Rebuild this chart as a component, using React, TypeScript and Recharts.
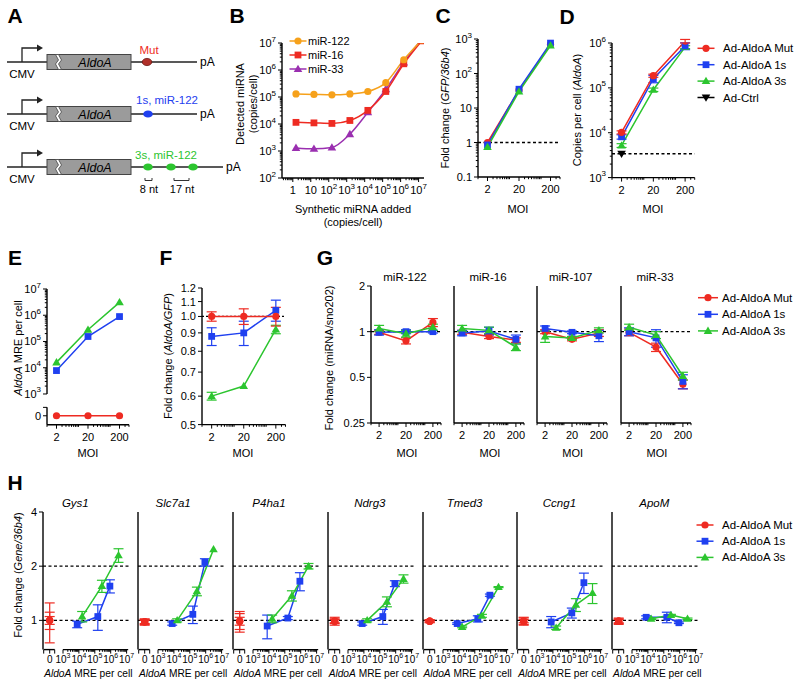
import React from "react";
import { LineChart, Line, XAxis, YAxis, ReferenceLine, ErrorBar } from "recharts";

const FONT = '"Liberation Sans", Arial, Helvetica, sans-serif';
const RED = "#ee2b22";
const BLUE = "#1f40f0";
const GREEN = "#2cc52f";
const ORANGE = "#f6a11b";
const PURPLE = "#9a2fb0";

// ---------- data ----------
const MOI = [2, 20, 200];

// B: spike-in of synthetic miRNA
const B_NAMES = ["miR-122", "miR-16", "miR-33"];
const SPIKE = [1.5, 15, 150, 1.5e3, 1.5e4, 1.5e5, 1.5e6, 1.5e7];
const B_MIR122 = [1.3e5, 1.25e5, 1.2e5, 1.3e5, 1.6e5, 3.4e5, 2.4e6, 1.3e7];
const B_MIR16 = [1.15e4, 1.1e4, 1.05e4, 1.35e4, 3.2e4, 1.6e5, 1.7e6, 1.2e7];
const B_MIR33 = [1.3e3, 1.2e3, 1.35e3, 4.2e3, 2.7e4, 1.95e5, 1.9e6, 1.4e7];

// C: GFP/36b4
const C_MUT = [1.0, 33, 700];
const C_1S = [0.85, 35, 760];
const C_3S = [0.74, 30, 650];

// D: copies per cell
const AD_NAMES = ["Ad-AldoA Mut", "Ad-AldoA 1s", "Ad-AldoA 3s", "Ad-Ctrl"];
const D_MUT = [1.02e4, 1.87e5, 1.1e6];
const D_MUT_ERR = [800, 1.5e4, 1e5];
const D_1S = [8.1e3, 1.6e5, 8.6e5];
const D_1S_ERR = [900, 3e4, 1.5e5];
const D_3S = [5.2e3, 9.1e4, 8.1e5];
const D_3S_ERR = [500, 8e3, 6e4];
const D_CTRL = 3.4e3;

// E: MRE per cell
const E_MUT = [0, 0, 0];
const E_1S = [7.8e3, 1.55e5, 8.9e5];
const E_3S = [1.6e4, 2.8e5, 3.1e6];

// F: AldoA/GFP
const F_TICKS = [0.5, 0.6, 0.7, 0.8, 0.9, 1.0, 1.1, 1.2];
const F_MUT = [1.0, 1.0, 1.0];
const F_MUT_ERR = [0.03, 0.05, 0.06];
const F_1S = [0.88, 0.9, 1.04];
const F_1S_ERR = [0.05, 0.07, 0.07];
const F_3S = [0.6, 0.64, 0.92];
const F_3S_ERR = [0.015, 0.0, 0.025];

// G: miRNA/sno202
const G_MIRS = ["miR-122", "miR-16", "miR-107", "miR-33"];
const G_TICKS = [0.25, 0.5, 1, 2];
const G_MUT = [[0.99, 0.87, 1.15], [0.99, 0.93, 0.88], [1.0, 0.89, 0.98], [0.99, 0.79, 0.45]];
const G_MUT_ERR = [[0.03, 0.04, 0.07], [0.03, 0.03, 0.03], [0.03, 0.02, 0.05], [0.05, 0.05, 0.03]];
const G_1S = [[0.99, 1.0, 1.0], [0.98, 1.01, 0.89], [1.05, 0.99, 0.94], [1.0, 0.91, 0.47]];
const G_1S_ERR = [[0.04, 0.03, 0.02], [0.04, 0.06, 0.06], [0.04, 0.02, 0.08], [0.06, 0.12, 0.05]];
const G_3S = [[1.05, 0.97, 1.07], [1.05, 1.02, 0.79], [0.93, 0.91, 1.02], [1.07, 0.95, 0.51]];
const G_3S_ERR = [[0.05, 0.05, 0.05], [0.05, 0.05, 0.04], [0.08, 0.02, 0.04], [0.05, 0.05, 0.03]];

// H: Gene/36b4 vs MRE per cell
const H_GENES = ["Gys1", "Slc7a1", "P4ha1", "Ndrg3", "Tmed3", "Ccng1", "ApoM"];
const H_TICKS = [1, 2, 4];
const H_MUT = [[1.0, 1.0, 1.0], [0.98, 0.98, 0.98], [0.99, 0.99, 0.99], [0.99, 0.99, 0.99], [0.99, 0.99, 0.99], [0.99, 0.99, 0.99], [0.99, 0.99, 0.99]];
const H_MUT_ERR = [[0.25, 0.11, 0.05], [0.04, 0.03, 0.02], [0.13, 0.1, 0.05], [0.05, 0.03, 0.02], [0.02, 0.01, 0.01], [0.05, 0.04, 0.02], [0.04, 0.03, 0.02]];
const H_1S = [[0.95, 1.05, 1.55], [0.96, 1.08, 2.1], [0.93, 1.03, 1.65], [0.96, 1.05, 1.6], [0.96, 1.02, 1.38], [0.98, 1.1, 1.62], [1.04, 1.04, 0.97]];
const H_1S_ERR = [[0.04, 0.17, 0.13], [0.02, 0.12, 0.1], [0.14, 0.02, 0.19], [0.02, 0.1, 0.06], [0.01, 0.04, 0.02], [0.07, 0.07, 0.21], [0.02, 0.07, 0.01]];
const H_3S = [[1.05, 1.55, 2.3], [1.0, 1.45, 2.48], [1.02, 1.37, 2.0], [1.0, 1.27, 1.7], [0.92, 1.06, 1.53], [0.91, 1.22, 1.42], [1.02, 1.07, 1.02]];
const H_3S_ERR = [[0.07, 0.12, 0.2], [0.02, 0.08, 0.0], [0.05, 0.09, 0.07], [0.02, 0.08, 0.09], [0.01, 0.02, 0.01], [0.02, 0.1, 0.18], [0.01, 0.01, 0.01]];

// ---------- layout ----------
const PL = 44, PT = 8, PR = 8, PB = 30;
const AX = { stroke: "#000", strokeWidth: 1.4 };
const MAJ = 4, MIN = 2.2;
const MOI_DOM: [number, number] = [1, 400];

// broken axes: value 0 sits on its own little segment, the rest is log10
const E_DOM: [number, number] = [1.83, 7];
const E_ZERO = 2.17;
const E_SEG0 = [1.83, 2.49];
const H_DOM: [number, number] = [1.742, 7.277];
const H_ZERO = 2.163;
const H_SEG0 = [1.786, 2.478];
const H_YDOM: [number, number] = [0.688, 4];
const G_X0 = [371, 454, 536.7, 621];
const H_X0 = H_GENES.map((_, i) => 43.3 + i * 94.83);
const H_TITLE_DX = [32, 35, 36, 42, 42, 42, 42];

type Row = { x: number; y: number; e: number };
const rows = (xs: number[], ys: number[], es?: number[]): Row[] =>
  xs.map((x, i) => ({ x, y: ys[i], e: es ? es[i] : 0 }));
const eT = (v: number) => (v === 0 ? E_ZERO : Math.log10(v));
const hT = (v: number) => (v === 0 ? H_ZERO : Math.log10(v));

type TD = { v: number; label?: React.ReactNode; len: number };
const sup = (n: number, fs = 8) => (
  <>
    <tspan>10</tspan>
    <tspan dy={-4.5} fontSize={fs}>{n}</tspan>
  </>
);

function logDefs(lo: number, hi: number, lab: (n: number) => React.ReactNode): TD[] {
  const out: TD[] = [];
  for (let n = lo; n <= hi; n++) {
    out.push({ v: Math.pow(10, n), label: lab(n), len: MAJ });
    if (n < hi) for (let k = 2; k <= 9; k++) out.push({ v: k * Math.pow(10, n), len: MIN });
  }
  return out;
}

const MOI_DEFS: TD[] = [];
for (let n = 0; n <= 2; n++)
  for (let k = 1; k <= 9; k++) {
    const v = k * Math.pow(10, n);
    if (v > 400) continue;
    const major = MOI.includes(v);
    MOI_DEFS.push({ v, len: major ? MAJ : MIN, label: major ? String(v) : undefined });
  }

const B_XDEFS: TD[] = [
  ...[3, 4, 5, 6, 7, 8, 9].map((k) => ({ v: k / 10, len: MIN })),
  ...logDefs(0, 7, (n) => (n === 0 ? "1" : n === 1 ? "10" : sup(n))),
];
const B_YDEFS = logDefs(2, 7, (n) => sup(n));
const C_YDEFS = logDefs(-1, 3, (n) => (n === -1 ? "0.1" : n === 0 ? "1" : n === 1 ? "10" : sup(n)));
const D_YDEFS = logDefs(3, 6, (n) => sup(n));

const E_YDEFS: TD[] = [{ v: E_ZERO, label: "0", len: MAJ }, { v: E_SEG0[1], len: MAJ }];
for (let n = 3; n <= 7; n++) {
  E_YDEFS.push({ v: n, label: sup(n), len: MAJ });
  if (n < 7) for (let k = 2; k <= 9; k++) E_YDEFS.push({ v: n + Math.log10(k), len: MIN });
}
const H_XDEFS: TD[] = [
  { v: H_ZERO, label: "0", len: MAJ },
  { v: H_SEG0[0], len: MAJ },
  { v: H_SEG0[1], len: MAJ },
];
for (let n = 3; n <= 7; n++) {
  H_XDEFS.push({ v: n, label: sup(n, 7), len: MAJ });
  if (n < 7) for (let k = 2; k <= 9; k++) H_XDEFS.push({ v: n + Math.log10(k), len: MIN });
}
const F_YDEFS: TD[] = F_TICKS.map((v) => ({ v, label: v.toFixed(1), len: MAJ }));
const G_YDEFS: TD[] = G_TICKS.map((v) => ({ v, label: String(v), len: MAJ }));
const H_YDEFS: TD[] = H_TICKS.map((v) => ({ v, label: String(v), len: MAJ }));

// ---------- drawing helpers ----------
const Mk = ({ shape, cx, cy, color }: { shape: string; cx: number; cy: number; color: string }) => {
  if (shape === "circle") return <circle cx={cx} cy={cy} r={3.6} fill={color} />;
  if (shape === "square") return <rect x={cx - 3.4} y={cy - 3.4} width={6.8} height={6.8} fill={color} />;
  if (shape === "tri")
    return <path d={`M${cx},${cy - 4.3} L${cx + 4.3},${cy + 3} L${cx - 4.3},${cy + 3} Z`} fill={color} />;
  return <path d={`M${cx},${cy + 4.3} L${cx + 4.3},${cy - 3} L${cx - 4.3},${cy - 3} Z`} fill={color} />;
};

const dotOf = (shape: string, color: string) => (p: any) =>
  p.cx == null || p.cy == null || isNaN(p.cy) ? (
    <g key={p.index} />
  ) : (
    <Mk key={p.index} shape={shape} cx={p.cx} cy={p.cy} color={color} />
  );

const XTick = (p: any) => {
  const { x, y, payload, defs, off = 12, fs = 11 } = p;
  const d = (defs as TD[]).find((t) => t.v === payload.value);
  if (!d) return <g />;
  return (
    <g>
      <line x1={x} x2={x} y1={y} y2={y + d.len} stroke="#000" strokeWidth={1} />
      {d.label != null && (
        <text x={x} y={y + off} textAnchor="middle" dominantBaseline="central" fontSize={fs} fontFamily={FONT} fill="#000">
          {d.label}
        </text>
      )}
    </g>
  );
};

const YTick = (p: any) => {
  const { x, y, payload, defs } = p;
  const d = (defs as TD[]).find((t) => t.v === payload.value);
  if (!d) return <g />;
  return (
    <g>
      <line x1={x - d.len} x2={x} y1={y} y2={y} stroke="#000" strokeWidth={1} />
      {d.label != null && (
        <text x={x - 6} y={y} textAnchor="end" dominantBaseline="central" fontSize={11} fontFamily={FONT} fill="#000">
          {d.label}
        </text>
      )}
    </g>
  );
};

const xAx = (domain: [number, number], defs: TD[], o: { log?: boolean; line?: boolean; off?: number; fs?: number } = {}) => (
  <XAxis
    key="xa"
    type="number"
    dataKey="x"
    scale={o.log === false ? "linear" : "log"}
    domain={domain}
    allowDataOverflow
    ticks={defs.map((d) => d.v)}
    interval={0}
    tickSize={0}
    tickMargin={0}
    tickLine={false}
    axisLine={o.line === false ? false : AX}
    height={PB}
    tick={(tp: any) => <XTick {...tp} defs={defs} off={o.off} fs={o.fs} />}
  />
);

const yAx = (domain: [number, number], defs: TD[] | null, o: { log?: boolean; line?: boolean } = {}) => (
  <YAxis
    key="ya"
    type="number"
    scale={o.log === false ? "linear" : "log"}
    domain={domain}
    allowDataOverflow
    ticks={defs ? defs.map((d) => d.v) : undefined}
    interval={0}
    tickSize={0}
    tickMargin={0}
    tickLine={false}
    axisLine={o.line === false ? false : AX}
    width={PL}
    tick={defs ? (tp: any) => <YTick {...tp} defs={defs} /> : false}
  />
);

function series(key: string, data: Row[], color: string, shape: string, o: { err?: boolean; curve?: "monotone" | "linear"; noLine?: boolean } = {}) {
  return (
    <Line
      key={key}
      data={data}
      dataKey="y"
      type={o.curve ?? "linear"}
      stroke={o.noLine ? "none" : color}
      strokeWidth={1.5}
      dot={dotOf(shape, color)}
      activeDot={false}
      isAnimationActive={false}
      legendType="none"
    >
      {o.err && <ErrorBar dataKey="e" direction="y" width={5} stroke={color} strokeWidth={1.2} />}
    </Line>
  );
}

const dash = (yv: number, key: string, da = "3 2.5") => (
  <ReferenceLine key={key} y={yv} stroke="#000" strokeWidth={1.3} strokeDasharray={da} ifOverflow="visible" />
);

const Frame = ({ x, y, w, h, children }: { x: number; y: number; w: number; h: number; children: React.ReactNode }) => (
  <div style={{ position: "absolute", left: x - PL, top: y - PT }}>
    <LineChart width={w + PL + PR} height={h + PT + PB} margin={{ top: PT, right: PR, bottom: 0, left: 0 }}>
      {children}
    </LineChart>
  </div>
);

type LItem = { name: string; color: string; shape: string };
const LegendBlock = ({ x, y0, step, half, tx, fs, items }: { x: number; y0: number; step: number; half: number; tx: number; fs: number; items: LItem[] }) => (
  <g>
    {items.map((it, i) => {
      const yy = y0 + i * step;
      return (
        <g key={it.name}>
          <line x1={x - half} x2={x + half} y1={yy} y2={yy} stroke={it.color} strokeWidth={1.5} />
          <Mk shape={it.shape} cx={x} cy={yy} color={it.color} />
          <text x={tx} y={yy} dominantBaseline="central" fontSize={fs} fontFamily={FONT}>
            {it.name}
          </text>
        </g>
      );
    })}
  </g>
);

const AD_ITEMS: LItem[] = [
  { name: AD_NAMES[0], color: RED, shape: "circle" },
  { name: AD_NAMES[1], color: BLUE, shape: "square" },
  { name: AD_NAMES[2], color: GREEN, shape: "tri" },
];
const B_ITEMS: LItem[] = [
  { name: B_NAMES[0], color: ORANGE, shape: "circle" },
  { name: B_NAMES[1], color: RED, shape: "square" },
  { name: B_NAMES[2], color: PURPLE, shape: "tri" },
];

const VText = ({ x, y, children, fs = 11 }: { x: number; y: number; children: React.ReactNode; fs?: number }) => (
  <text x={x} y={y} transform={`rotate(-90 ${x} ${y})`} textAnchor="middle" dominantBaseline="central" fontSize={fs} fontFamily={FONT}>
    {children}
  </text>
);
const HText = ({ x, y, children, fs = 11, italic }: { x: number; y: number; children: React.ReactNode; fs?: number; italic?: boolean }) => (
  <text x={x} y={y} textAnchor="middle" dominantBaseline="central" fontSize={fs} fontFamily={FONT} fontStyle={italic ? "italic" : "normal"}>
    {children}
  </text>
);
const Letter = ({ x, y, t }: { x: number; y: number; t: string }) => (
  <text x={x} y={y} textAnchor="middle" dominantBaseline="central" fontSize={21} fontWeight="bold" fontFamily={FONT}>
    {t}
  </text>
);

const PanelA = () => {
  const ys = [62, 114, 167];
  return (
    <g fontFamily={FONT}>
      {ys.map((ry, i) => (
        <g key={i}>
          <line x1={7} x2={i === 2 ? 223 : 197} y1={ry} y2={ry} stroke="#222" strokeWidth={1.3} />
          <path d={`M22,${ry} V${ry - 14} H37`} fill="none" stroke="#222" strokeWidth={1.3} />
          <path d={`M37,${ry - 17.5} L43,${ry - 14} L37,${ry - 10.5} Z`} fill="#222" />
          <rect x={47} y={ry - 7.5} width={84} height={15} fill="#9b9b9b" stroke="#444" strokeWidth={1} />
          <path
            d={`M55.5,${ry - 7.5} L58.5,${ry - 2} L55.5,${ry + 2} L58.5,${ry + 7.5} L61.5,${ry + 7.5} L58.5,${ry + 2} L61.5,${ry - 2} L58.5,${ry - 7.5} Z`}
            fill="#fff"
            stroke="#444"
            strokeWidth={0.8}
          />
          <text x={95} y={ry + 0.5} textAnchor="middle" dominantBaseline="central" fontStyle="italic" fontSize={12.5}>
            AldoA
          </text>
          <text x={22} y={ry + 11.5} textAnchor="middle" dominantBaseline="central" fontSize={11.5}>
            CMV
          </text>
          <text x={i === 2 ? 226 : 200} y={ry} dominantBaseline="central" fontSize={12}>
            pA
          </text>
        </g>
      ))}
      <ellipse cx={147} cy={62} rx={4.8} ry={3.6} fill="#b0302a" stroke="#6a1510" strokeWidth={0.8} />
      <text x={149} y={50} textAnchor="middle" dominantBaseline="central" fontSize={11.5} fill={RED}>
        Mut
      </text>
      <ellipse cx={148} cy={114} rx={4.8} ry={3.6} fill={BLUE} />
      <text x={167} y={100} textAnchor="middle" dominantBaseline="central" fontSize={11.5} fill={BLUE}>
        1s, miR-122
      </text>
      {[148, 171, 193].map((cx) => (
        <ellipse key={cx} cx={cx} cy={167} rx={4.8} ry={3.6} fill={GREEN} />
      ))}
      <text x={166} y={155} textAnchor="middle" dominantBaseline="central" fontSize={11.5} fill={GREEN}>
        3s, miR-122
      </text>
      <path d="M145,178 V180.5 H152 V178" fill="none" stroke="#333" strokeWidth={1} />
      <path d="M174,178 V180.5 H189 V178" fill="none" stroke="#333" strokeWidth={1} />
      <text x={149} y={189} textAnchor="middle" dominantBaseline="central" fontSize={11}>
        8 nt
      </text>
      <text x={182} y={189} textAnchor="middle" dominantBaseline="central" fontSize={11}>
        17 nt
      </text>
    </g>
  );
};

export default function App() {
  return (
    <div style={{ position: "absolute", left: 0, top: 0, width: 800, height: 687, background: "#fff", overflow: "hidden" }}>
      {/* B */}
      <Frame x={282} y={43} w={142} h={135}>
        {xAx([0.25, 2e7], B_XDEFS)}
        {yAx([100, 1e7], B_YDEFS)}
        {series("b3", rows(SPIKE, B_MIR33), PURPLE, "tri", { curve: "monotone" })}
        {series("b2", rows(SPIKE, B_MIR16), RED, "square", { curve: "monotone" })}
        {series("b1", rows(SPIKE, B_MIR122), ORANGE, "circle", { curve: "monotone" })}
      </Frame>

      {/* C */}
      <Frame x={477.5} y={39.3} w={82} h={138}>
        {xAx(MOI_DOM, MOI_DEFS)}
        {yAx([0.1, 1000], C_YDEFS)}
        {dash(1, "c1")}
        {series("cm", rows(MOI, C_MUT), RED, "circle")}
        {series("c1s", rows(MOI, C_1S), BLUE, "square")}
        {series("c3s", rows(MOI, C_3S), GREEN, "tri")}
      </Frame>

      {/* D */}
      <Frame x={612} y={42.7} w={82.7} h={134.6}>
        {xAx(MOI_DOM, MOI_DEFS)}
        {yAx([1000, 1e6], D_YDEFS)}
        {dash(D_CTRL, "dctrl")}
        {series("d3s", rows(MOI, D_3S, D_3S_ERR), GREEN, "tri", { err: true })}
        {series("d1s", rows(MOI, D_1S, D_1S_ERR), BLUE, "square", { err: true })}
        {series("dm", rows(MOI, D_MUT, D_MUT_ERR), RED, "circle", { err: true })}
        {series("dc", rows([2], [D_CTRL]), "#000", "tridown", { noLine: true })}
      </Frame>

      {/* E */}
      <Frame x={47} y={289.3} w={82} h={135.7}>
        {xAx(MOI_DOM, MOI_DEFS)}
        {yAx(E_DOM, E_YDEFS, { log: false, line: false })}
        <ReferenceLine key="es1" segment={[{ x: 1, y: 3 }, { x: 1, y: 7 }]} stroke="#000" strokeWidth={1.4} ifOverflow="visible" />
        <ReferenceLine key="es0" segment={[{ x: 1, y: E_SEG0[0] }, { x: 1, y: E_SEG0[1] }]} stroke="#000" strokeWidth={1.4} ifOverflow="visible" />
        {series("em", rows(MOI, E_MUT.map(eT)), RED, "circle")}
        {series("e1s", rows(MOI, E_1S.map(eT)), BLUE, "square")}
        {series("e3s", rows(MOI, E_3S.map(eT)), GREEN, "tri")}
      </Frame>

      {/* F */}
      <Frame x={201.5} y={287.7} w={83.5} h={136.6}>
        {xAx(MOI_DOM, MOI_DEFS)}
        {yAx([0.5, 1.2], F_YDEFS)}
        {dash(1, "f1", "2 2")}
        {series("f3s", rows(MOI, F_3S, F_3S_ERR), GREEN, "tri", { err: true })}
        {series("f1s", rows(MOI, F_1S, F_1S_ERR), BLUE, "square", { err: true })}
        {series("fm", rows(MOI, F_MUT, F_MUT_ERR), RED, "circle", { err: true })}
      </Frame>

      {/* G */}
      {G_MIRS.map((m, i) => (
        <Frame key={m} x={G_X0[i]} y={286} w={70} h={137}>
          {xAx(MOI_DOM, MOI_DEFS)}
          {yAx([0.25, 2], i === 0 ? G_YDEFS : null)}
          {dash(1, "g1")}
          {series("gm", rows(MOI, G_MUT[i], G_MUT_ERR[i]), RED, "circle", { err: true })}
          {series("g1s", rows(MOI, G_1S[i], G_1S_ERR[i]), BLUE, "square", { err: true })}
          {series("g3s", rows(MOI, G_3S[i], G_3S_ERR[i]), GREEN, "tri", { err: true })}
        </Frame>
      ))}

      {/* H */}
      {H_GENES.map((g, i) => (
        <Frame key={g} x={H_X0[i]} y={511.7} w={88} h={137.6}>
          {xAx(H_DOM, H_XDEFS, { log: false, line: false, off: 9.5, fs: 10 })}
          {yAx(H_YDOM, i === 0 ? H_YDEFS : null)}
          {dash(1, "h1")}
          {dash(2, "h2")}
          <ReferenceLine key="hs0" segment={[{ x: H_SEG0[0], y: H_YDOM[0] }, { x: H_SEG0[1], y: H_YDOM[0] }]} stroke="#000" strokeWidth={1.4} ifOverflow="visible" />
          <ReferenceLine key="hs1" segment={[{ x: 3, y: H_YDOM[0] }, { x: 7.1, y: H_YDOM[0] }]} stroke="#000" strokeWidth={1.4} ifOverflow="visible" />
          {series("hm", rows(E_MUT.map(hT), H_MUT[i], H_MUT_ERR[i]), RED, "circle", { err: true, noLine: true })}
          {series("h1s", rows(E_1S.map(hT), H_1S[i], H_1S_ERR[i]), BLUE, "square", { err: true })}
          {series("h3s", rows(E_3S.map(hT), H_3S[i], H_3S_ERR[i]), GREEN, "tri", { err: true })}
        </Frame>
      ))}

      <svg width={800} height={687} style={{ position: "absolute", left: 0, top: 0, pointerEvents: "none" }} fontFamily={FONT}>
        <Letter x={15} y={15} t="A" />
        <Letter x={237} y={15} t="B" />
        <Letter x={443} y={15} t="C" />
        <Letter x={567} y={16} t="D" />
        <Letter x={15} y={257} t="E" />
        <Letter x={166} y={257} t="F" />
        <Letter x={325} y={257} t="G" />
        <Letter x={15} y={482} t="H" />

        <PanelA />

        {/* B texts */}
        <VText x={240} y={104}>Detected miRNA</VText>
        <VText x={253} y={104}>(copies/cell)</VText>
        <HText x={353} y={209}>Synthetic miRNA added</HText>
        <HText x={353} y={222}>(copies/cell)</HText>
        <LegendBlock x={298} y0={41} step={14} half={8.5} tx={308} fs={11} items={B_ITEMS} />

        {/* C */}
        <VText x={445} y={108}>
          Fold change (<tspan fontStyle="italic">GFP/36b4</tspan>)
        </VText>
        <HText x={518} y={209}>MOI</HText>

        {/* D */}
        <VText x={577} y={110}>
          Copies per cell (<tspan fontStyle="italic">AldoA</tspan>)
        </VText>
        <HText x={653} y={209}>MOI</HText>
        <LegendBlock
          x={706}
          y0={48.3}
          step={16.4}
          half={8.5}
          tx={723}
          fs={11.5}
          items={[...AD_ITEMS, { name: AD_NAMES[3], color: "#000", shape: "tridown" }]}
        />

        {/* E */}
        <VText x={18} y={348}>
          <tspan fontStyle="italic">AldoA</tspan> MRE per cell
        </VText>
        <HText x={88} y={453}>MOI</HText>

        {/* F */}
        <VText x={168} y={356}>
          Fold change (<tspan fontStyle="italic">AldoA/GFP</tspan>)
        </VText>
        <HText x={243} y={453}>MOI</HText>

        {/* G */}
        <VText x={329} y={358}>Fold change (miRNA/sno202)</VText>
        {G_MIRS.map((m, i) => (
          <g key={m}>
            <HText x={G_X0[i] + 34} y={277} fs={11.5}>{m}</HText>
            <HText x={G_X0[i] + 36} y={453}>MOI</HText>
          </g>
        ))}
        <LegendBlock x={708} y0={297.7} step={16.6} half={10} tx={722} fs={11.5} items={AD_ITEMS} />

        {/* H */}
        <VText x={18} y={575}>
          Fold change (<tspan fontStyle="italic">Gene/36b4</tspan>)
        </VText>
        {H_GENES.map((g, i) => (
          <g key={g}>
            <HText x={H_X0[i] + H_TITLE_DX[i]} y={503} fs={11.5} italic>
              {g}
            </HText>
            <HText x={H_X0[i] + 45} y={673} fs={10.2}>
              <tspan fontStyle="italic">AldoA</tspan> MRE per cell
            </HText>
          </g>
        ))}
        <LegendBlock x={705} y0={525} step={16.2} half={8.5} tx={722} fs={11.5} items={AD_ITEMS} />
      </svg>
    </div>
  );
}
